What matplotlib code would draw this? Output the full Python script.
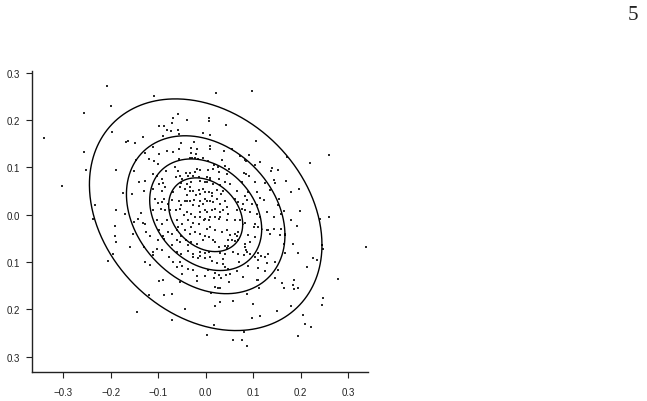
import numpy as np
import matplotlib
matplotlib.use("Agg")
import matplotlib.pyplot as plt

# ---------------- data ----------------
x_vals = [
    # upper-left block
    -0.200, -0.198, -0.058, -0.068, -0.039, -0.098, -0.087, -0.070, -0.081, -0.073,
    -0.058, -0.056, -0.091, -0.132, -0.163, -0.167, -0.148, -0.005, -0.051, -0.025,
    -0.112, -0.031, -0.018, -0.056, -0.082, -0.068, -0.030, -0.020, -0.128, -0.098,
    -0.119, -0.109, -0.056, -0.033, -0.028, -0.023, -0.017, -0.006, -0.146, -0.100,
    -0.065, -0.018, -0.011, -0.188, -0.151, -0.084, -0.058, -0.042, -0.033, -0.023,
    -0.111, -0.103, -0.054, -0.038, -0.026, -0.014, -0.063,
    # upper-right block
    0.007, 0.007, 0.042, 0.009, 0.009, 0.009, 0.105, 0.039, 0.055, 0.072,
    0.091, 0.083, 0.085, 0.035, 0.004, 0.115, 0.103, 0.018, 0.025, 0.041,
    0.049, 0.171, 0.139, 0.138, 0.153, 0.005, 0.016, 0.028, 0.081, 0.085,
    0.044, 0.002, 0.009, 0.091,
    # middle-left block
    -0.140, -0.128, -0.093, -0.098, -0.089, -0.086, -0.053, -0.049, -0.039, -0.032,
    -0.012, -0.001, -0.033, -0.175, -0.156, -0.131, -0.110, -0.093, -0.068, -0.054,
    -0.044, -0.034, -0.026, -0.015, -0.005, -0.040, -0.020, -0.012, -0.107, -0.101,
    -0.093, -0.088, -0.079, -0.070, -0.056, -0.044, -0.039, -0.033, -0.025, -0.012,
    -0.001, -0.051, -0.026, -0.015, -0.006, -0.189, -0.170, -0.137, -0.112, -0.095,
    -0.086, -0.075, -0.063, -0.054, -0.040, -0.030, -0.013, -0.012, -0.001, -0.046,
    -0.022, -0.191, -0.151, -0.142, -0.133, -0.128, -0.103, -0.093, -0.082, -0.061,
    -0.049, -0.037, -0.026, -0.015, -0.004, -0.058, -0.030, -0.154, -0.126, -0.117,
    -0.098, -0.089, -0.079, -0.070, -0.061, -0.044, -0.033, -0.022, -0.012, -0.001,
    -0.051, -0.191, -0.189, -0.101, -0.088, -0.061, -0.054, -0.041, -0.030, -0.018,
    -0.006, -0.160, -0.131, -0.070, -0.037, -0.195, -0.112, -0.103, -0.093, -0.061,
    -0.051, -0.037, -0.026, -0.012, -0.001,
    # middle-right block
    0.002, 0.009, 0.016, 0.027, 0.030, 0.041, 0.051, 0.065, 0.076, 0.104,
    0.124, 0.143, 0.145, 0.169, 0.197, 0.136, -0.001, 0.006, 0.013, 0.023,
    0.032, 0.037, 0.083, 0.090, 0.108, 0.115, 0.122, 0.180, 0.155, 0.013,
    0.002, 0.009, 0.016, 0.023, 0.030, 0.041, 0.044, 0.062, 0.069, 0.079,
    0.086, 0.097, 0.108, 0.129, 0.153, 0.166, 0.199, 0.002, 0.013, 0.020,
    0.030, 0.037, 0.048, 0.065, 0.076, 0.083, 0.093, 0.108, 0.115, 0.143,
    0.159, 0.180, -0.001, 0.006, 0.009, 0.020, 0.027, 0.030, 0.044, 0.062,
    0.072, 0.083, 0.101, 0.104, 0.111, 0.129, 0.132, 0.143, 0.159, 0.192,
    0.002, 0.009, 0.020, 0.034, 0.044, 0.051, 0.062, 0.065, 0.069, 0.090,
    0.104, 0.136, 0.157, 0.167, 0.006, 0.016, 0.020, 0.048, 0.055, 0.062,
    0.069, 0.082, 0.093, 0.164, 0.183, 0.027, 0.041, 0.044, 0.048, 0.006,
    0.030, 0.041, 0.058, 0.069, 0.083, 0.085, 0.086, 0.093, 0.111, 0.131,
    0.167, 0.195,
    # lower-left block
    -0.128, -0.118, -0.111, -0.077, -0.068, -0.054, -0.061, -0.049, -0.037, -0.026,
    -0.016, -0.011, -0.001, -0.026, -0.049, -0.018, -0.018, -0.001, -0.098, -0.089,
    -0.054, -0.119, -0.087, -0.072, -0.044, -0.144, -0.070,
    # lower-right block
    0.009, 0.013, 0.023, 0.037, 0.037, 0.041, 0.048, 0.071, 0.081, 0.090,
    0.104, 0.111, 0.117, 0.125, 0.129, 0.111, 0.125, 0.146, 0.152, 0.004,
    0.020, 0.029, 0.042, 0.051, 0.065, 0.079, 0.049, 0.018, 0.032, 0.020,
    0.025, 0.030, 0.108, 0.111, 0.112, 0.146, 0.160, 0.166, 0.187, 0.185,
    0.195, 0.187, 0.011, 0.030, 0.058, 0.086, 0.100, 0.020, 0.180, 0.150,
    0.098, 0.115, 0.018, 0.081,
    # outlying points
    -0.209, -0.109, 0.022, 0.097, -0.341, -0.303, -0.256, -0.257, -0.253, -0.234,
    -0.237, -0.205, 0.259, 0.220, 0.259, 0.240, 0.338, 0.247, 0.226, 0.234,
    0.213, 0.278, 0.247, 0.245, 0.205, 0.210, 0.222, 0.194, 0.003, 0.058,
    0.077, 0.086,
]
y_vals = [
    # upper-left block
    0.229, 0.176, 0.213, 0.204, 0.201, 0.188, 0.188, 0.194, 0.180, 0.178,
    0.180, 0.171, 0.167, 0.165, 0.155, 0.153, 0.152, 0.172, 0.152, 0.153,
    0.144, 0.142, 0.139, 0.140, 0.135, 0.132, 0.130, 0.128, 0.130, 0.128,
    0.118, 0.114, 0.118, 0.120, 0.121, 0.119, 0.118, 0.119, 0.116, 0.107,
    0.100, 0.097, 0.095, 0.095, 0.093, 0.092, 0.093, 0.088, 0.088, 0.091,
    0.086, 0.081, 0.081, 0.081, 0.082, 0.080, 0.079,
    # upper-right block
    0.204, 0.199, 0.190, 0.169, 0.146, 0.139, 0.156, 0.135, 0.140, 0.125,
    0.126, 0.116, 0.114, 0.116, 0.113, 0.111, 0.105, 0.105, 0.100, 0.104,
    0.097, 0.123, 0.098, 0.093, 0.095, 0.094, 0.097, 0.090, 0.088, 0.086,
    0.086, 0.079, 0.078, 0.082,
    # middle-left block
    0.069, 0.071, 0.076, 0.064, 0.067, 0.059, 0.067, 0.076, 0.066, 0.069,
    0.071, 0.069, 0.059, 0.046, 0.044, 0.051, 0.055, 0.051, 0.048, 0.059,
    0.055, 0.050, 0.051, 0.053, 0.055, 0.041, 0.041, 0.044, 0.034, 0.025,
    0.027, 0.034, 0.023, 0.032, 0.030, 0.029, 0.030, 0.030, 0.032, 0.029,
    0.034, 0.020, 0.020, 0.018, 0.023, 0.009, 0.002, 0.004, 0.009, 0.013,
    0.009, 0.009, 0.009, 0.013, 0.006, 0.002, 0.006, -0.004, 0.009, -0.001,
    -0.005, -0.023, -0.016, -0.008, -0.018, -0.019, -0.011, -0.019, -0.012, -0.012,
    -0.019, -0.012, -0.018, -0.019, -0.012, -0.025, -0.025, -0.040, -0.037, -0.046,
    -0.033, -0.046, -0.037, -0.040, -0.032, -0.033, -0.040, -0.037, -0.040, -0.044,
    -0.046, -0.044, -0.058, -0.054, -0.051, -0.054, -0.058, -0.053, -0.058, -0.061,
    -0.054, -0.068, -0.068, -0.065, -0.065, -0.082, -0.079, -0.072, -0.075, -0.079,
    -0.084, -0.077, -0.082, -0.079, -0.081,
    # middle-right block
    0.069, 0.073, 0.064, 0.076, 0.062, 0.069, 0.064, 0.051, 0.069, 0.069,
    0.067, 0.073, 0.067, 0.071, 0.055, 0.053, 0.048, 0.048, 0.046, 0.053,
    0.043, 0.051, 0.039, 0.048, 0.048, 0.036, 0.032, 0.048, 0.034, 0.039,
    0.030, 0.030, 0.027, 0.034, 0.023, 0.029, 0.016, 0.034, 0.027, 0.023,
    0.032, 0.022, 0.020, 0.006, 0.020, 0.008, 0.008, 0.006, 0.009, 0.013,
    0.006, 0.009, 0.002, 0.011, 0.013, 0.009, 0.006, 0.002, -0.005, -0.004,
    0.001, -0.012, -0.008, -0.012, -0.005, -0.005, -0.008, -0.004, -0.011, -0.011,
    -0.012, -0.018, -0.025, -0.019, -0.026, -0.033, -0.033, -0.030, -0.030, -0.023,
    -0.030, -0.026, -0.033, -0.037, -0.032, -0.042, -0.040, -0.046, -0.037, -0.042,
    -0.047, -0.040, -0.042, -0.040, -0.047, -0.054, -0.058, -0.053, -0.054, -0.056,
    -0.053, -0.061, -0.058, -0.061, -0.061, -0.068, -0.067, -0.070, -0.067, -0.079,
    -0.081, -0.082, -0.079, -0.082, -0.068, -0.074, -0.079, -0.084, -0.081, -0.084,
    -0.081, -0.081,
    # lower-left block
    -0.099, -0.106, -0.085, -0.089, -0.099, -0.099, -0.110, -0.108, -0.115, -0.089,
    -0.092, -0.087, -0.091, -0.117, -0.125, -0.129, -0.140, -0.129, -0.140, -0.138,
    -0.142, -0.170, -0.170, -0.168, -0.199, -0.205, -0.223,
    # lower-right block
    -0.089, -0.097, -0.103, -0.094, -0.105, -0.111, -0.115, -0.101, -0.085, -0.108,
    -0.089, -0.096, -0.087, -0.089, -0.103, -0.112, -0.119, -0.099, -0.117, -0.117,
    -0.124, -0.127, -0.127, -0.125, -0.119, -0.132, -0.143, -0.133, -0.134, -0.152,
    -0.156, -0.154, -0.138, -0.138, -0.156, -0.133, -0.145, -0.156, -0.138, -0.149,
    -0.154, -0.157, -0.166, -0.184, -0.182, -0.168, -0.189, -0.194, -0.194, -0.204,
    -0.218, -0.214, -0.233, -0.247,
    # outlying points
    0.273, 0.252, 0.257, 0.262, 0.162, 0.061, 0.215, 0.133, 0.095, 0.021,
    -0.008, -0.097, 0.126, 0.109, -0.005, -0.008, -0.068, -0.073, -0.092, -0.096,
    -0.110, -0.136, -0.176, -0.191, -0.212, -0.231, -0.237, -0.256, -0.254, -0.265,
    -0.265, -0.277,
]

ellipse_center = (0.0, 0.0)
ellipse_rho = -0.26
ellipse_levels = [0.078, 0.118, 0.167, 0.245]

x_ticks = [-0.3, -0.2, -0.1, 0.0, 0.1, 0.2, 0.3]
x_ticklabels = ["\u22120.3", "\u22120.2", "\u22120.1", "0.0", "0.1", "0.2", "0.3"]
y_ticks = [0.3, 0.2, 0.1, 0.0, -0.1, -0.2, -0.3]
y_ticklabels = ["0.3", "0.2", "0.1", "0.0", "0.1", "0.2", "0.3"]
page_number = "5"

# ---------------- figure ----------------
W, H = 647, 402
fig = plt.figure(figsize=(W / 100, H / 100), dpi=100)
left, right, top, bottom = 32, 368, 72, 372.7
ax = fig.add_axes([left / W, 1 - bottom / H, (right - left) / W, (bottom - top) / H])

ax.plot(x_vals, y_vals, linestyle="none", marker="s", markersize=1.6,
        markeredgewidth=0, color="#2a2a2a")

t = np.linspace(0, 2 * np.pi, 500)
L = np.linalg.cholesky(np.array([[1.0, ellipse_rho], [ellipse_rho, 1.0]]))
circ = np.vstack([np.cos(t), np.sin(t)])
for r in ellipse_levels:
    pts = r * (L @ circ)
    ax.plot(ellipse_center[0] + pts[0], ellipse_center[1] + pts[1],
            color="black", linewidth=1.0)

ax.set_xlim(-0.366, 0.342)
ax.set_ylim(-0.332, 0.304)

for s in ["top", "right"]:
    ax.spines[s].set_visible(False)
for s in ["left", "bottom"]:
    ax.spines[s].set_linewidth(1.0)
    ax.spines[s].set_color("#222222")

ax.set_xticks(x_ticks)
ax.set_xticklabels(x_ticklabels)
ax.set_yticks(y_ticks)
ax.set_yticklabels(y_ticklabels)
ax.tick_params(axis="both", direction="out", length=4.3, width=0.8,
               color="#222222", labelsize=7, labelcolor="#222222")
ax.tick_params(axis="x", pad=7.0)
ax.tick_params(axis="y", pad=4.6)
for lab in ax.get_xticklabels() + ax.get_yticklabels():
    lab.set_fontfamily("Liberation Sans")

fig.text(633 / W, 1 - 15 / H, page_number, fontsize=15, family="Liberation Serif",
         ha="center", va="center", color="#222222")

fig.savefig("out.png", dpi=100)
